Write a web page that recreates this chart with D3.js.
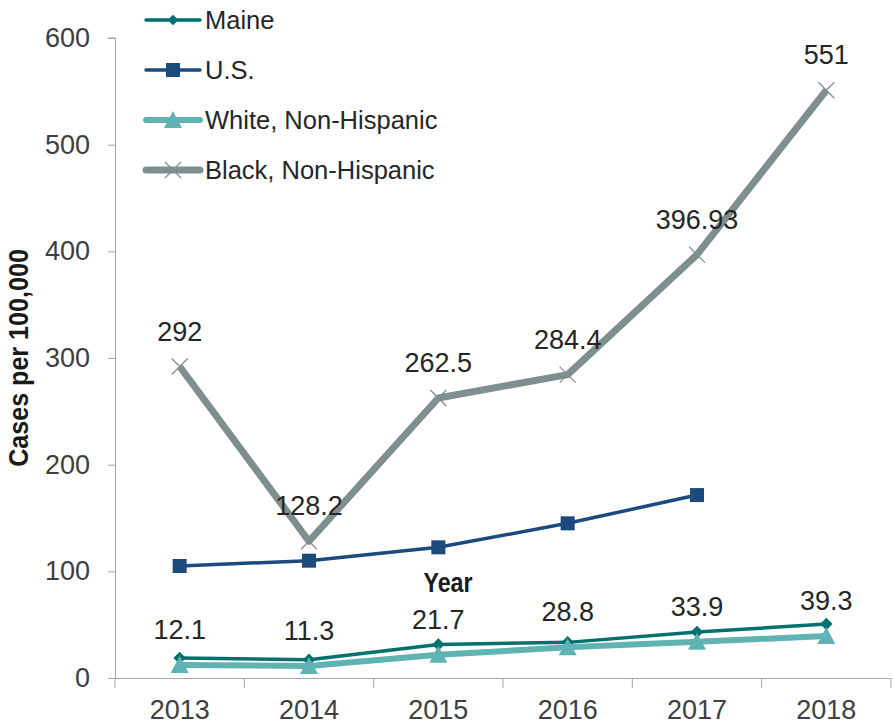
<!DOCTYPE html>
<html>
<head>
<meta charset="utf-8">
<script src="https://cdn.jsdelivr.net/npm/d3@7"></script>
<style>
  body { margin: 0; background: #fff; }
  svg { display: block; font-family: "Liberation Sans", Arial, sans-serif; }
  .axis path, .axis line { stroke: #a6a6a6; }
  .axis text { fill: #404040; font-size: 27px; }
</style>
</head>
<body>
<svg id="chart" width="893" height="723"></svg>
<script>
const years = ["2013", "2014", "2015", "2016", "2017", "2018"];
const maine = [18.7, 17.2, 31.5, 33.4, 43.1, 50.6];
const us = [105, 110, 122.5, 145, 171.5];
const white = [12.1, 11.3, 21.7, 28.8, 33.9, 39.3];
const black = [292, 128.2, 262.5, 284.4, 396.93, 551];
const yTicks = [0, 100, 200, 300, 400, 500, 600];

const series = [
  { name: "Maine", values: maine, color: "#00716f", width: 3.5, marker: "diamond", labels: false },
  { name: "U.S.", values: us, color: "#1c4a7c", width: 3.5, marker: "square", labels: false },
  { name: "White, Non-Hispanic", values: white, color: "#5fb3b2", width: 6, marker: "triangle", labels: true },
  { name: "Black, Non-Hispanic", values: black, color: "#7f8e8e", width: 7, marker: "cross", labels: true },
];

const width = 893;
const height = 723;
const margin = { top: 38, right: 2, bottom: 45, left: 115 };

const svg = d3.select("#chart");

const x = d3.scaleBand()
  .domain(years)
  .range([margin.left, width - margin.right]);

const y = d3.scaleLinear()
  .domain([0, 600])
  .range([height - margin.bottom, margin.top]);

// axes
svg.append("g")
  .attr("class", "axis")
  .attr("transform", `translate(${margin.left},0)`)
  .call(d3.axisLeft(y).tickValues(yTicks).tickSize(7).tickPadding(18))
  .call((g) => g.select(".domain").attr("d", `M-7,${y(600)}H0.5V${y(0)}`));

const xAxis = svg.append("g")
  .attr("class", "axis")
  .attr("transform", `translate(0,${y(0)})`)
  .call(d3.axisBottom(x).tickSize(0).tickPadding(22))
  .call((g) => g.select(".domain").attr("d", `M${margin.left},0.5H${width - margin.right}`));

xAxis.selectAll(".boundary")
  .data(d3.range(years.length + 1))
  .join("line")
  .attr("class", "boundary")
  .attr("x1", (i) => margin.left + i * x.step())
  .attr("x2", (i) => margin.left + i * x.step())
  .attr("y1", 0)
  .attr("y2", 10);

// axis titles (condensed bold)
svg.append("text")
  .attr("transform", `translate(28,${(y(0) + y(600)) / 2}) rotate(-90) scale(0.93,1)`)
  .attr("text-anchor", "middle")
  .style("font-weight", "bold")
  .style("font-size", "27px")
  .attr("fill", "#1a1a1a")
  .text("Cases per 100,000");

svg.append("text")
  .attr("transform", `translate(448,592) scale(0.86,1)`)
  .attr("text-anchor", "middle")
  .style("font-weight", "bold")
  .style("font-size", "27px")
  .attr("fill", "#1a1a1a")
  .text("Year");

const cx = (i) => x(years[i]) + x.bandwidth() / 2;

function drawMarker(g, s, px, py, small) {
  const k = small ? 0.85 : 1;
  if (s.marker === "diamond") {
    g.append("path")
      .attr("d", d3.symbol(d3.symbolDiamond2, 100 * k * k)())
      .attr("transform", `translate(${px},${py})`)
      .attr("fill", s.color);
  } else if (s.marker === "square") {
    g.append("rect")
      .attr("x", px - 7).attr("y", py - 7)
      .attr("width", 14).attr("height", 14)
      .attr("fill", s.color);
  } else if (s.marker === "triangle") {
    g.append("path")
      .attr("d", `M${px},${py - 9}L${px + 9},${py + 8}L${px - 9},${py + 8}Z`)
      .attr("fill", s.color);
  } else {
    g.append("path")
      .attr("d", `M${px - 8},${py - 8}L${px + 8},${py + 8}M${px - 8},${py + 8}L${px + 8},${py - 8}`)
      .attr("stroke", s.color)
      .attr("stroke-width", 1.2)
      .attr("fill", "none");
  }
}

const line = d3.line()
  .x((d, i) => cx(i))
  .y((d) => y(d));

series.forEach((s) => {
  const g = svg.append("g");
  g.append("path")
    .datum(s.values)
    .attr("d", line)
    .attr("fill", "none")
    .attr("stroke", s.color)
    .attr("stroke-width", s.width)
    .attr("stroke-linejoin", "round");
  s.values.forEach((v, i) => drawMarker(g, s, cx(i), y(v)));
});

// data labels
series.filter((s) => s.labels).forEach((s) => {
  svg.append("g")
    .selectAll("text")
    .data(s.values)
    .join("text")
    .attr("x", (d, i) => cx(i))
    .attr("y", (d) => y(d) - 26)
    .attr("text-anchor", "middle")
    .attr("fill", "#262626")
    .style("font-size", "27px")
    .text((d) => d);
});

// legend
const legend = svg.append("g").attr("transform", "translate(146,20)");
series.forEach((s, i) => {
  const g = legend.append("g").attr("transform", `translate(0,${i * 50})`);
  g.append("line")
    .attr("x1", 0).attr("x2", 54)
    .attr("stroke", s.color)
    .attr("stroke-width", s.width)
    .attr("stroke-linecap", "round");
  drawMarker(g, s, 27, 0, true);
  g.append("text")
    .attr("x", 59)
    .attr("dy", "0.36em")
    .attr("fill", "#262626")
    .style("font-size", "25.5px")
    .text(s.name);
});
</script>
</body>
</html>
